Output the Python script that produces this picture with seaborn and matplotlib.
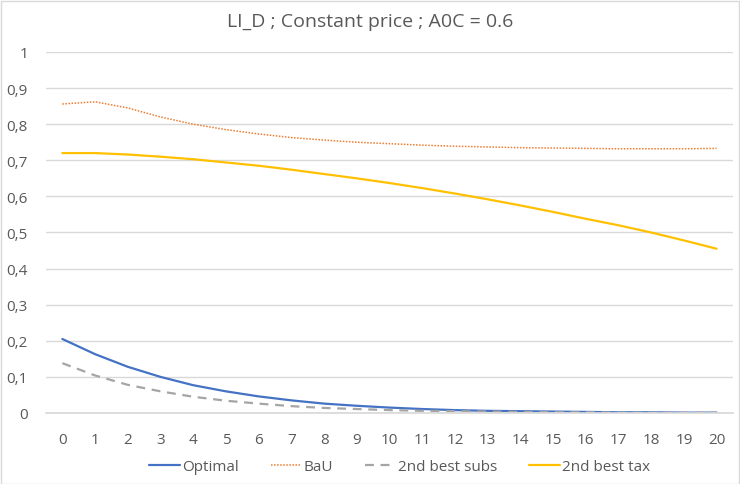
import matplotlib
matplotlib.use("Agg")
import matplotlib.pyplot as plt
import seaborn as sns
import pandas as pd
import numpy as np
from matplotlib.ticker import FuncFormatter, MultipleLocator

years = list(range(21))
optimal = [0.205, 0.163, 0.128, 0.100, 0.077, 0.060, 0.046, 0.035, 0.026, 0.020,
           0.015, 0.011, 0.008, 0.006, 0.005, 0.004, 0.003, 0.002, 0.002, 0.001, 0.001]
bau = [0.856, 0.862, 0.845, 0.820, 0.800, 0.785, 0.773, 0.763, 0.756, 0.750,
       0.746, 0.742, 0.739, 0.737, 0.735, 0.734, 0.733, 0.732, 0.732, 0.732, 0.733]
subs = [0.138, 0.104, 0.078, 0.060, 0.045, 0.034, 0.026, 0.019, 0.014, 0.011,
        0.008, 0.006, 0.005, 0.004, 0.003, 0.002, 0.002, 0.001, 0.001, 0.001, 0.001]
tax = [0.720, 0.720, 0.716, 0.710, 0.703, 0.694, 0.685, 0.674, 0.662, 0.650,
       0.637, 0.623, 0.608, 0.592, 0.575, 0.557, 0.538, 0.520, 0.500, 0.478, 0.455]
series_names = ["Optimal", "BaU", "2nd best subs", "2nd best tax"]
title = "LI_D ; Constant price ; A0C = 0.6"

df = pd.DataFrame({"x": years * 4,
                   "y": optimal + bau + subs + tax,
                   "series": sum([[n] * len(years) for n in series_names], [])})

sns.set_theme(style="white")
plt.rcParams['font.family'] = ['Open Sans', 'DejaVu Sans']

fig = plt.figure(figsize=(7.4, 4.85), dpi=100)
ax = fig.add_axes([46/740, 1 - 414/485, (733-46)/740, (414-53)/485])

styles = {
    "Optimal": dict(color="#4472C4", ls="-", lw=1.6),
    "BaU": dict(color="#ED7D31", ls=(0, (1, 1)), lw=1.1),
    "2nd best subs": dict(color="#A5A5A5", ls=(0, (4, 3)), lw=1.6),
    "2nd best tax": dict(color="#FFC000", ls="-", lw=1.6),
}
for name in series_names:
    sub = df[df.series == name]
    st = styles[name]
    sns.lineplot(data=sub, x="x", y="y", ax=ax, color=st["color"], linestyle=st["ls"],
                 linewidth=st["lw"], label=name)

ax.set_xlim(-0.5, 20.5)
ax.set_ylim(0, 1)
ax.yaxis.set_major_locator(MultipleLocator(0.1))
ax.yaxis.set_major_formatter(FuncFormatter(lambda v, p: "0" if abs(v) < 1e-9 else ("1" if abs(v-1) < 1e-9 else f"{v:.1f}".replace(".", ","))))
ax.set_xticks(years)
ax.set_xticklabels([str(y) for y in years])
ax.set_xticks(np.arange(-0.5, 21, 1), minor=True)
ax.grid(axis="y", color="#D9D9D9", lw=1)
ax.set_axisbelow(True)
for s in ["top", "right", "left"]:
    ax.spines[s].set_visible(False)
ax.spines["bottom"].set_color("#D9D9D9")
ax.tick_params(axis="x", which="major", length=0, pad=14, labelsize=11, labelcolor="#595959")
ax.tick_params(axis="x", which="minor", length=4, color="#D9D9D9", direction="out")
ax.tick_params(axis="y", length=0, pad=13, labelsize=11, labelcolor="#595959")
ax.set_xlabel("")
ax.set_ylabel("")

fig.text(0.5, 1 - 22/485, title, ha="center", va="center", fontsize=14, color="#595959")

ax.legend(loc="upper center", bbox_to_anchor=(0.515, -0.09), ncol=4, frameon=False,
          fontsize=11, labelcolor="#595959", handlelength=2.0, handletextpad=0.15, columnspacing=2.1)

fig.patches.append(plt.Rectangle((0.5/740, 0.5/485), 738/740, 483/485, transform=fig.transFigure,
                                 fill=False, edgecolor="#D9D9D9", lw=1))
fig.savefig("out.png", dpi=100, facecolor="white")
